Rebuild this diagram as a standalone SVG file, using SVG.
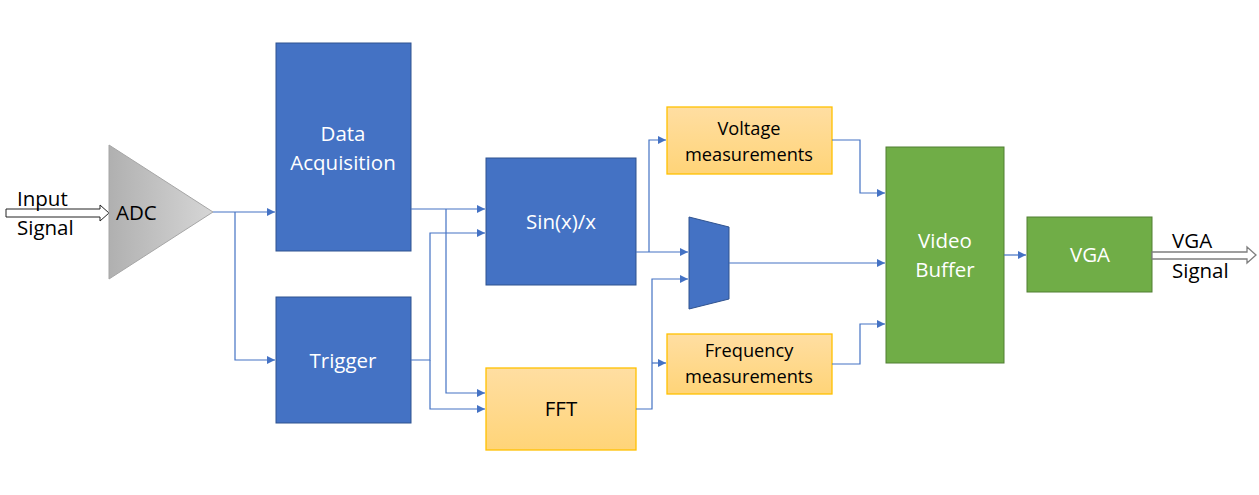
<svg xmlns="http://www.w3.org/2000/svg" width="1259" height="495" viewBox="0 0 1259 495">
<defs>
<linearGradient id="gAdc" x1="0" y1="0" x2="1" y2="0">
<stop offset="0" stop-color="#b0b0b0"/>
<stop offset="1" stop-color="#d6d6d6"/>
</linearGradient>
<linearGradient id="gOr" x1="0" y1="0" x2="0" y2="1">
<stop offset="0" stop-color="#ffdea2"/>
<stop offset="1" stop-color="#ffd478"/>
</linearGradient>
<marker id="arr" viewBox="0 0 10 10" refX="10" refY="5" markerWidth="10" markerHeight="8" markerUnits="userSpaceOnUse" orient="auto">
<path d="M0,0 L10,5 L0,10 z" fill="#4472c4"/>
</marker>
</defs>
<style>
.bl{fill:#4472c4;stroke:#2f528f;stroke-width:1}
.or{fill:url(#gOr);stroke:#ffc000;stroke-width:1.3}
.gr{fill:#70ad47;stroke:#507e32;stroke-width:1}
.w{fill:#ffffff;font-family:"Open Sans","Noto Sans",sans-serif;font-size:20.5px;text-anchor:middle}
.k{fill:#000000;font-family:"Open Sans","Noto Sans",sans-serif;font-size:18.2px;text-anchor:middle}
.t{fill:#000000;font-family:"Open Sans","Noto Sans",sans-serif;font-size:20.5px}
.c{fill:none;stroke:#4472c4;stroke-width:1.2}
</style>
<rect width="1259" height="495" fill="#ffffff"/>
<g id="input">
<path d="M6,209 H100 V205 L109,213 L100,221 V217 H6 Z" fill="#ffffff" stroke="#222222" stroke-width="1"/>
<text class="t" x="17" y="206">Input</text>
<text class="t" x="17" y="235">Signal</text>
</g>
<g id="adc">
<polygon points="109,145 213,212 109,279" fill="url(#gAdc)" stroke="#a6a6a6" stroke-width="1"/>
<text class="t" x="116" y="220">ADC</text>
</g>
<g id="data-acquisition">
<rect class="bl" x="276" y="43" width="135" height="208"/>
<text class="w" x="343" y="141">Data</text>
<text class="w" x="343" y="170">Acquisition</text>
</g>
<g id="trigger">
<rect class="bl" x="276" y="297" width="135" height="126"/>
<text class="w" x="343" y="368">Trigger</text>
</g>
<g id="sinx">
<rect class="bl" x="486" y="158" width="150" height="127"/>
<text class="w" x="561" y="229">Sin(x)/x</text>
</g>
<g id="fft">
<rect class="or" x="486" y="368" width="150" height="82"/>
<text class="k" x="561" y="416" style="font-size:20.5px">FFT</text>
</g>
<g id="voltage">
<rect class="or" x="667" y="107" width="165" height="67"/>
<text class="k" x="749" y="135">Voltage</text>
<text class="k" x="749" y="161">measurements</text>
</g>
<g id="frequency">
<rect class="or" x="667" y="334" width="165" height="60"/>
<text class="k" x="749" y="357">Frequency</text>
<text class="k" x="749" y="383">measurements</text>
</g>
<g id="mux">
<polygon class="bl" points="689,217 729,227 729,299 689,309"/>
</g>
<g id="video-buffer">
<rect class="gr" x="886" y="147" width="118" height="216"/>
<text class="w" x="945" y="248">Video</text>
<text class="w" x="945" y="277">Buffer</text>
</g>
<g id="vga">
<rect class="gr" x="1027" y="217" width="125" height="75"/>
<text class="w" x="1090" y="262">VGA</text>
</g>
<g id="output">
<path d="M1152,252 H1247 V247 L1256,255 L1247,263 V259 H1152 Z" fill="#ffffff" stroke="#7f7f7f" stroke-width="1.3"/>
<text class="t" x="1172" y="248">VGA</text>
<text class="t" x="1172" y="278">Signal</text>
</g>
<g id="connectors">
<path class="c" d="M213,212 H275" marker-end="url(#arr)"/>
<path class="c" d="M235,212 V360 H275" marker-end="url(#arr)"/>
<path class="c" d="M411,209 H485" marker-end="url(#arr)"/>
<path class="c" d="M446,209 V393 H485" marker-end="url(#arr)"/>
<path class="c" d="M411,360 H430 V233 H485" marker-end="url(#arr)"/>
<path class="c" d="M430,360 V409 H485" marker-end="url(#arr)"/>
<path class="c" d="M636,252 H688" marker-end="url(#arr)"/>
<path class="c" d="M649,252 V140 H666" marker-end="url(#arr)"/>
<path class="c" d="M636,409 H652 V279 H688" marker-end="url(#arr)"/>
<path class="c" d="M652,363 H666" marker-end="url(#arr)"/>
<path class="c" d="M832,140 H860 V193 H885" marker-end="url(#arr)"/>
<path class="c" d="M729,263 H885" marker-end="url(#arr)"/>
<path class="c" d="M832,364 H860 V324 H885" marker-end="url(#arr)"/>
<path class="c" d="M1004,255 H1026" marker-end="url(#arr)"/>
</g>
</svg>
